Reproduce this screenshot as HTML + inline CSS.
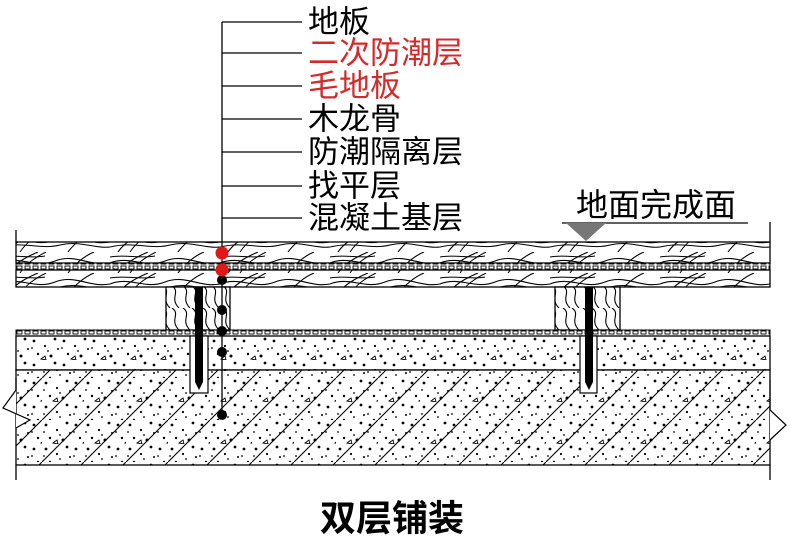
<!DOCTYPE html>
<html><head><meta charset="utf-8"><style>
html,body{margin:0;padding:0;background:#fff;}
svg{display:block}
text{font-family:"Liberation Sans","Noto Sans CJK SC",sans-serif;}
</style></head><body>
<svg width="790" height="543" viewBox="0 0 790 543" xmlns="http://www.w3.org/2000/svg">
<defs>
<pattern id="stip" width="30" height="24" patternUnits="userSpaceOnUse">
<rect width="30" height="24" fill="#fff"/>
<circle cx="4" cy="5" r="1.4" fill="#000"/><circle cx="15" cy="10" r="1.1" fill="#000"/>
<circle cx="25" cy="3" r="1.4" fill="#000"/><circle cx="8" cy="18" r="1.2" fill="#000"/>
<circle cx="21" cy="20" r="1.5" fill="#000"/><circle cx="28" cy="13" r="1" fill="#000"/>
<path d="M11 23 l4 -3 l1 4 z" fill="none" stroke="#000" stroke-width="0.9"/>
<circle cx="18" cy="15" r="0.9" fill="#000"/><circle cx="2" cy="12" r="0.9" fill="#000"/>
</pattern>
<pattern id="hatch" width="42" height="42" patternUnits="userSpaceOnUse">
<rect width="42" height="42" fill="url(#stip)"/>
<line x1="0" y1="42" x2="42" y2="0" stroke="#000" stroke-width="1.1"/>
</pattern>
<pattern id="wood" width="110" height="21" patternUnits="userSpaceOnUse">
<rect width="110" height="21" fill="#fff"/>
<path d="M0 11 C20 3,35 17,55 9 S90 15,110 11" fill="none" stroke="#000" stroke-width="1.1"/>
<path d="M0 16 C25 10,40 19,60 14 S95 18,110 16" fill="none" stroke="#000" stroke-width="1"/>
<path d="M8 21 C14 12,24 6,38 0" fill="none" stroke="#000" stroke-width="1.1"/>
<path d="M20 21 C26 12,34 6,46 0" fill="none" stroke="#000" stroke-width="1"/>
<path d="M68 21 C74 13,84 4,94 0" fill="none" stroke="#000" stroke-width="1.1"/>
<path d="M0 5 C15 2,30 7,45 4" fill="none" stroke="#000" stroke-width="1"/>
</pattern>
<pattern id="dots" width="8" height="5" patternUnits="userSpaceOnUse">
<rect width="8" height="5" fill="#fff"/><rect x="1" y="1" width="5" height="3" fill="none" stroke="#000" stroke-width="0.9"/>
</pattern>
<pattern id="grain" width="20" height="22" patternUnits="userSpaceOnUse">
<rect width="20" height="22" fill="#fff"/>
<path d="M3 0 C12 6,0 12,10 22 M12 0 C21 6,9 12,19 22" fill="none" stroke="#000" stroke-width="1.1"/>
</pattern>
</defs>

<line x1="222" y1="22" x2="222" y2="415" stroke="#000" stroke-width="1.3"/>
<g stroke="#000" stroke-width="1.3">
<line x1="222" y1="22" x2="302" y2="22"/><line x1="222" y1="53" x2="302" y2="53"/>
<line x1="222" y1="86" x2="302" y2="86"/><line x1="222" y1="119" x2="302" y2="119"/>
<line x1="222" y1="152" x2="302" y2="152"/><line x1="222" y1="186" x2="302" y2="186"/>
<line x1="222" y1="218" x2="302" y2="218"/>
</g>
<g font-size="31" dominant-baseline="central">
<text x="308" y="22">地板</text>
<text x="308" y="53" fill="#d42a2a">二次防潮层</text>
<text x="308" y="86" fill="#d42a2a">毛地板</text>
<text x="308" y="119">木龙骨</text>
<text x="308" y="152">防潮隔离层</text>
<text x="308" y="186">找平层</text>
<text x="308" y="218">混凝土基层</text>
</g>

<text x="576" y="205" font-size="32" dominant-baseline="central">地面完成面</text>
<line x1="562" y1="223" x2="748" y2="223" stroke="#000" stroke-width="1.3"/>
<polygon points="566,223 606,223 586,241" fill="#777"/>

<rect x="16" y="242" width="754" height="21" fill="url(#wood)" stroke="#000" stroke-width="1.3"/>
<rect x="16" y="263" width="754" height="7" fill="url(#dots)" stroke="#000" stroke-width="1"/>
<rect x="16" y="270" width="754" height="17" fill="url(#wood)" stroke="#000" stroke-width="1.3"/>
<rect x="166" y="287" width="64" height="43" fill="url(#grain)" stroke="#000" stroke-width="1.3"/>
<rect x="555" y="287" width="65" height="43" fill="url(#grain)" stroke="#000" stroke-width="1.3"/>
<rect x="16" y="330" width="754" height="6" fill="url(#dots)" stroke="#000" stroke-width="1"/>
<rect x="16" y="336" width="754" height="34" fill="url(#stip)" stroke="#000" stroke-width="1.3"/>
<rect x="16" y="370" width="754" height="95" fill="url(#hatch)" stroke="#000" stroke-width="1.3"/>
<polyline points="16,378 16,390 3,408 30,420 16,428" fill="#fff" stroke="#000" stroke-width="1.2"/>
<polyline points="770,380 770,410 786,425 770,440" fill="#fff" stroke="#000" stroke-width="1.2"/>
<line x1="16" y1="230" x2="16" y2="242" stroke="#000" stroke-width="1.3"/>
<line x1="770" y1="222" x2="770" y2="242" stroke="#000" stroke-width="1.3"/>
<line x1="16" y1="465" x2="16" y2="480" stroke="#000" stroke-width="1.3"/>
<line x1="770" y1="465" x2="770" y2="480" stroke="#000" stroke-width="1.3"/>

<rect x="190" y="336" width="18" height="57" fill="#fff" stroke="#000" stroke-width="1.2"/>
<rect x="195" y="287" width="8" height="95" fill="#000"/>
<polygon points="195,382 203,382 199,390" fill="#000"/>
<rect x="580" y="336" width="17" height="57" fill="#fff" stroke="#000" stroke-width="1.2"/>
<rect x="585" y="287" width="8" height="95" fill="#000"/>
<polygon points="585,382 593,382 589,390" fill="#000"/>

<line x1="222" y1="242" x2="222" y2="415" stroke="#000" stroke-width="1.3"/>
<g fill="#000">
<circle cx="222" cy="280" r="5"/><circle cx="222" cy="310" r="5"/><circle cx="222" cy="331" r="5"/>
<circle cx="222" cy="352" r="5"/><circle cx="222" cy="415" r="5"/>
</g>
<circle cx="222" cy="253" r="6.5" fill="#e01818"/>
<circle cx="222" cy="270" r="6.5" fill="#e01818"/>

<text x="392" y="518" font-size="36" font-weight="bold" text-anchor="middle" dominant-baseline="central">双层铺装</text>
</svg>
</body></html>
